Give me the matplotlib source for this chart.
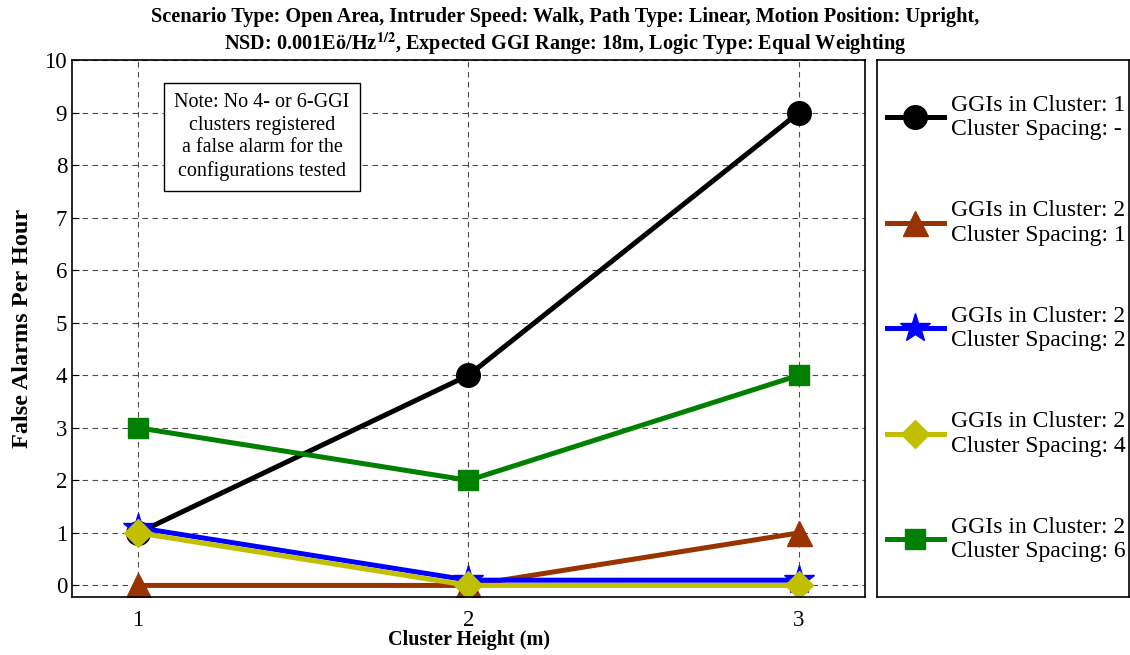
import matplotlib
matplotlib.use("Agg")
from matplotlib import pyplot as plt

plt.rcParams['font.family'] = ['Liberation Serif', 'DejaVu Serif']
plt.rcParams['mathtext.fontset'] = 'stix'

# 数据
heights = [1, 2, 3]
ggi1_sp_none = [1, 4, 9]
ggi2_sp1 = [0, 0, 1]
ggi2_sp2 = [1.1, 0.1, 0.1]
ggi2_sp4 = [1, 0, 0]
ggi2_sp6 = [3, 2, 4]

labels = ["GGIs in Cluster: 1\nCluster Spacing: -",
          "GGIs in Cluster: 2\nCluster Spacing: 1",
          "GGIs in Cluster: 2\nCluster Spacing: 2",
          "GGIs in Cluster: 2\nCluster Spacing: 4",
          "GGIs in Cluster: 2\nCluster Spacing: 6"]

fig = plt.figure(figsize=(11.3, 6.55), dpi=100)
ax = fig.add_axes([72/1130, 58/655, 793/1130, 537/655])

lw = 3.6
h1, = ax.plot(heights, ggi1_sp_none, color='black', lw=lw, marker='o', ms=17, label=labels[0])
h2, = ax.plot(heights, ggi2_sp1, color='#993300', lw=lw, marker='^', ms=18, label=labels[1])
h3, = ax.plot(heights, ggi2_sp2, color='#0000ff', lw=lw, marker='*', ms=22, label=labels[2])
h4, = ax.plot(heights, ggi2_sp4, color='#c0c000', lw=lw, marker='D', ms=14, label=labels[3])
h5, = ax.plot(heights, ggi2_sp6, color='#008000', lw=lw, marker='s', ms=15, label=labels[4])

ax.set_xlim(0.8, 3.2)
ax.set_ylim(-0.22, 10)
ax.set_xticks([1, 2, 3])
ax.set_yticks(range(0, 11))
ax.tick_params(labelsize=16.5, direction='in', length=5)
ax.tick_params(axis='x', pad=9)
ax.grid(True, color='black', linestyle=(0, (5, 4)), lw=0.8, alpha=0.7)
for s in ax.spines.values():
    s.set_linewidth(1.2)

ax.set_xlabel("Cluster Height (m)", fontsize=14.5, fontweight='bold', labelpad=0)
ax.set_ylabel("False Alarms Per Hour", fontsize=17.5, fontweight='bold', labelpad=8)

fig.text(0.5, 0.951,
         "Scenario Type: Open Area, Intruder Speed: Walk, Path Type: Linear, Motion Position: Upright,\n"
         r"NSD: 0.001Eö/Hz$^{\mathbf{1/2}}$, Expected GGI Range: 18m, Logic Type: Equal Weighting",
         ha='center', va='center', fontsize=14.6, fontweight='bold', linespacing=1.2)

ax.text(1.375, 8.53, "Note: No 4- or 6-GGI\nclusters registered\na false alarm for the\nconfigurations tested",
        ha='center', va='center', fontsize=14.5, linespacing=1.25,
        bbox=dict(boxstyle='square,pad=0.5', fc='white', ec='black', lw=1))

# 图例放在右边单独的框里
lax = fig.add_axes([877/1130, 58/655, 252/1130, 537/655])
lax.set_xticks([])
lax.set_yticks([])
for s in lax.spines.values():
    s.set_linewidth(1.2)
leg = lax.legend(handles=[h1, h2, h3, h4, h5], loc='center left', bbox_to_anchor=(0.04, 0.5),
                 frameon=False, fontsize=17, labelspacing=2.55, handlelength=2.4,
                 handletextpad=0.3, borderaxespad=0, borderpad=0)
for t in leg.get_texts():
    t.set_linespacing(1.2)

plt.savefig('out.png', dpi=100)
